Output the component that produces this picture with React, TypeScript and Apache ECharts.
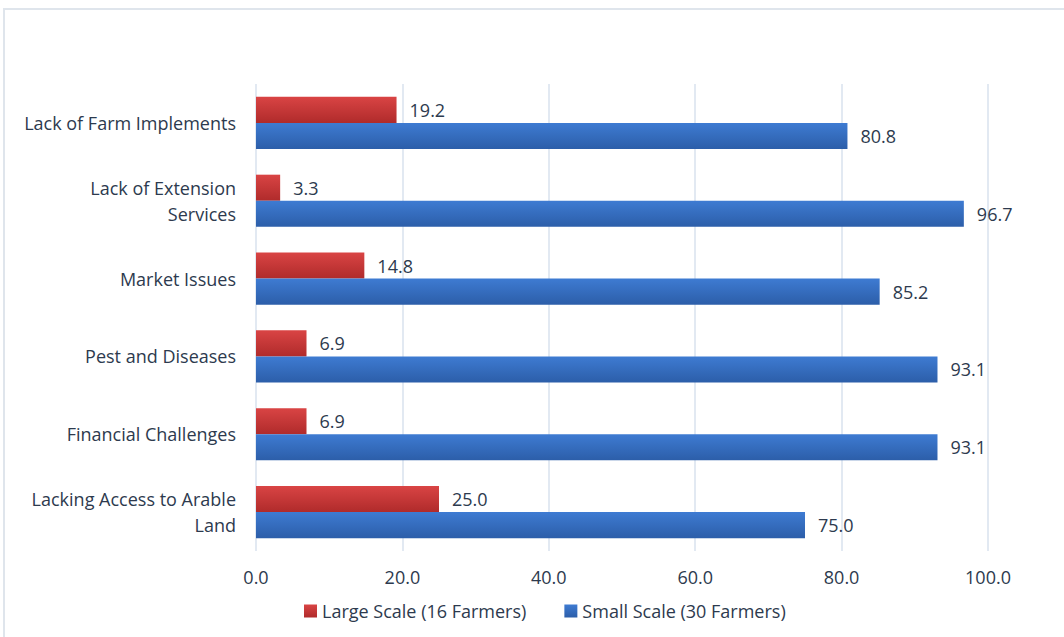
import React, { useEffect, useRef } from "react";
import * as echarts from "echarts";

const categories = [
  "Lack of Farm Implements",
  "Lack of Extension\nServices",
  "Market Issues",
  "Pest and Diseases",
  "Financial Challenges",
  "Lacking Access to Arable\nLand",
];
const largeScale = [19.2, 3.3, 14.8, 6.9, 6.9, 25.0];
const smallScale = [80.8, 96.7, 85.2, 93.1, 93.1, 75.0];
const seriesNames = ["Large Scale (16 Farmers)", "Small Scale (30 Farmers)"];

const FONT = "Open Sans";
const TEXT = "#2d3a4e";

export default function App() {
  const ref = useRef<HTMLDivElement>(null);
  useEffect(() => {
    document.body.style.margin = "0";
    const chart = echarts.init(ref.current!, null, { renderer: "svg" });
    const red = new echarts.graphic.LinearGradient(0, 0, 0, 1, [
      { offset: 0, color: "#d94444" },
      { offset: 1, color: "#b02b2b" },
    ]);
    const blue = new echarts.graphic.LinearGradient(0, 0, 0, 1, [
      { offset: 0, color: "#3e7bd2" },
      { offset: 1, color: "#2c5ea9" },
    ]);
    const valueLabel = {
      show: true,
      position: "right",
      distance: 13,
      formatter: (p: any) => p.value.toFixed(1),
      fontSize: 18,
      color: TEXT,
      fontFamily: FONT,
    };
    chart.setOption({
      animation: false,
      backgroundColor: "#ffffff",
      textStyle: { fontFamily: FONT },
      graphic: [
        {
          type: "rect",
          shape: { x: 4, y: 9, width: 1070, height: 640 },
          style: { fill: "none", stroke: "#dfe5ec", lineWidth: 2 },
          silent: true,
        },
      ],
      grid: { left: 256, right: 76, top: 84, bottom: 86 },
      legend: {
        top: 597,
        left: 299,
        icon: "rect",
        itemWidth: 13,
        itemHeight: 13,
        itemGap: 38,
        textStyle: { fontSize: 18, color: TEXT, fontFamily: FONT },
        data: seriesNames,
      },
      xAxis: {
        type: "value",
        min: 0,
        max: 100,
        interval: 20,
        axisLabel: {
          formatter: (v: number) => v.toFixed(1),
          fontSize: 18,
          color: TEXT,
          margin: 17,
          fontFamily: FONT,
        },
        axisLine: { show: false },
        axisTick: { show: false },
        splitLine: { lineStyle: { color: "#d8e2ee", width: 1.5 } },
      },
      yAxis: {
        type: "category",
        inverse: true,
        data: categories,
        axisLabel: {
          fontSize: 18,
          color: TEXT,
          margin: 20,
          lineHeight: 26,
          align: "right",
          fontFamily: FONT,
        },
        axisLine: { show: false },
        axisTick: { show: false },
      },
      series: [
        {
          name: seriesNames[0],
          type: "bar",
          data: largeScale,
          barGap: "0%",
          barCategoryGap: "33%",
          itemStyle: { color: red },
          label: valueLabel,
        },
        {
          name: seriesNames[1],
          type: "bar",
          data: smallScale,
          barGap: "0%",
          barCategoryGap: "33%",
          itemStyle: { color: blue },
          label: valueLabel,
        },
      ],
    });
    return () => chart.dispose();
  }, []);
  return <div ref={ref} style={{ width: 1064, height: 637 }} />;
}
